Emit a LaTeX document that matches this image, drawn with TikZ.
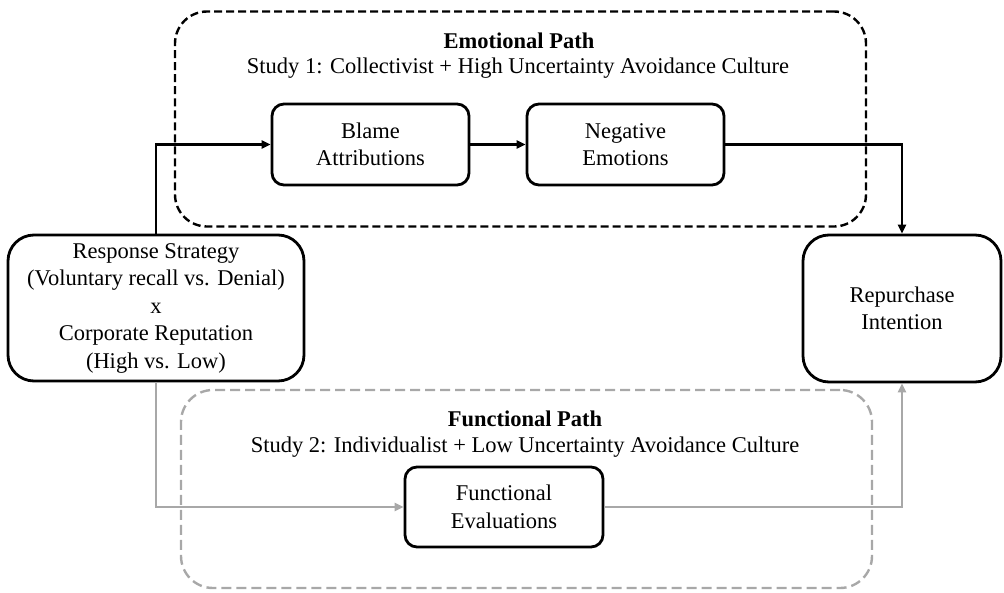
\documentclass[tikz,border=0pt]{standalone}
\usepackage{fontspec}
\setmainfont{Liberation Serif}
\usetikzlibrary{arrows.meta}
\definecolor{pathgray}{HTML}{A8A8A8}
\tikzset{
  box/.style={draw, line width=2.8pt, rounded corners=12pt, align=center,
    font=\fontsize{22.5}{27.5}\selectfont, inner sep=0pt},
  bigbox/.style={box, rounded corners=26pt},
  frame/.style={draw, line width=2.4pt, rounded corners=32pt, dash pattern=on 8pt off 4pt, inner sep=0pt},
  gframe/.style={frame, draw=pathgray, dash pattern=on 10pt off 5pt},
  title/.style={font=\fontsize{22.5}{27.5}\selectfont\bfseries, inner sep=0pt},
  sub/.style={font=\fontsize{22.5}{27.5}\selectfont, inner sep=0pt},
  arr/.style={line width=2.4pt, -{Triangle[length=9pt,width=8pt]}},
  garr/.style={arr, draw=pathgray, -{Triangle[length=9pt,width=8pt,color=pathgray]}}
}
\begin{document}
\begin{tikzpicture}[x=1pt,y=-1pt]
\useasboundingbox (0,0) rectangle (1004,592);
% frames
\node[frame, minimum width=691pt, minimum height=215pt] (emoframe) at (520.5,119) {};
\node[gframe, minimum width=691pt, minimum height=198pt] (funframe) at (526.5,489) {};
\node[title] (emotitle) at (519,41) {Emotional Path};
\node[sub] (emosub) at (518,68) {Study 1: Collectivist + High Uncertainty Avoidance Culture};
\node[title] (funtitle) at (525,419) {Functional Path};
\node[sub] (funsub) at (525,447) {Study 2: Individualist + Low Uncertainty Avoidance Culture};
% boxes
\node[box, fill=white, minimum width=197pt, minimum height=81pt] (blame) at (370.5,144.5) {Blame\\Attributions};
\node[box, fill=white, minimum width=197pt, minimum height=81pt] (neg) at (625.5,144.5) {Negative\\Emotions};
\node[bigbox, fill=white, minimum width=296pt, minimum height=146pt] (resp) at (156,308)
  {Response Strategy\\(Voluntary recall vs. Denial)\\x\\Corporate Reputation\\(High vs. Low)};
\node[bigbox, fill=white, minimum width=198pt, minimum height=147pt] (rep) at (902,308.5) {Repurchase\\Intention};
\node[box, fill=white, minimum width=198pt, minimum height=80pt] (func) at (504,507) {Functional\\Evaluations};
% connectors
\draw[arr] (resp.north) |- (blame.west);
\draw[arr] (blame.east) -- (neg.west);
\draw[arr] (neg.east) -| (rep.north);
\draw[garr] (resp.south) |- (func.west);
\draw[garr] (func.east) -| (rep.south);
\end{tikzpicture}
\end{document}
